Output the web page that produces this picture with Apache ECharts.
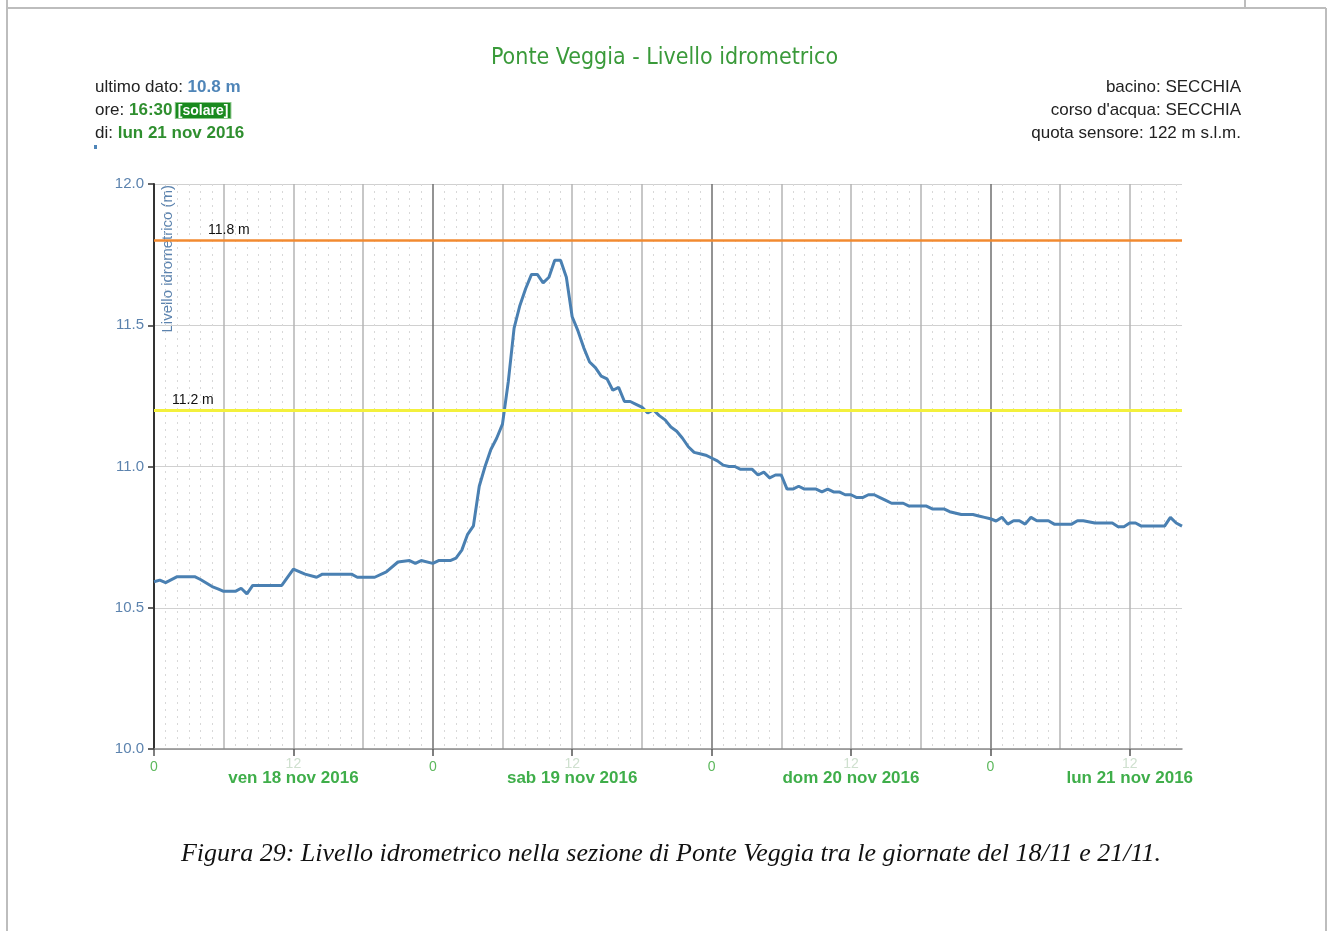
<!DOCTYPE html>
<html>
<head>
<meta charset="utf-8">
<script src="https://cdn.jsdelivr.net/npm/echarts@6/dist/echarts.min.js"></script>
<style>
  html, body { margin: 0; padding: 0; background: #fff; }
  #chart { width: 1329px; height: 931px; }
</style>
</head>
<body>
<div id="chart"></div>
<script>
  // ore trascorse da ven 18 nov 2016 00:00
  var hours = [
    0, 0.5, 1, 2, 3.5, 4, 5, 5.5, 6, 7, 7.5, 8, 8.5, 11, 12, 13, 14, 14.5, 15, 17,
    17.5, 19, 20, 21, 22, 22.5, 23, 24, 24.5, 25.5, 26, 26.5, 27, 27.5, 28, 28.5, 29, 29.5, 30, 30.5,
    31, 31.5, 32, 32.5, 33, 33.5, 34, 34.5, 35, 35.5, 36, 36.5, 37, 37.5, 38, 38.5, 39, 39.5, 40, 40.5,
    41, 41.5, 42, 42.5, 43, 43.5, 44, 44.5, 45, 45.5, 46, 46.5, 47, 47.5, 48, 48.5, 49, 49.5, 50, 50.5,
    51.5, 52, 52.5, 53, 53.5, 54, 54.5, 55, 55.5, 56, 57, 57.5, 58, 58.5, 59, 59.5, 60, 60.5, 61, 61.5,
    62, 62.5, 63, 63.5, 64.5, 65, 66.5, 67, 68, 68.5, 69.5, 70.5, 71, 71.5, 72, 72.5, 73, 73.5, 74, 74.5,
    75, 75.5, 76, 77, 77.5, 79, 79.5, 80, 81, 82.5, 83, 83.5, 84, 84.5, 85, 87, 87.5, 88, 88.5
  ];
  // livello idrometrico (m)
  var levels = [
    10.592, 10.598, 10.589, 10.61, 10.61, 10.60, 10.575, 10.567, 10.558, 10.558, 10.569, 10.549, 10.579, 10.579, 10.637, 10.619, 10.608, 10.619, 10.619, 10.619,
    10.608, 10.608, 10.627, 10.662, 10.667, 10.657, 10.667, 10.657, 10.667, 10.667, 10.676, 10.704, 10.76, 10.79, 10.93, 11.00, 11.06, 11.10, 11.15, 11.30,
    11.49, 11.57, 11.63, 11.68, 11.68, 11.65, 11.67, 11.73, 11.73, 11.67, 11.53, 11.48, 11.42, 11.37, 11.35, 11.32, 11.31, 11.27, 11.28, 11.23,
    11.23, 11.22, 11.21, 11.19, 11.20, 11.18, 11.165, 11.14, 11.125, 11.10, 11.07, 11.05, 11.045, 11.04, 11.03, 11.02, 11.005, 11.0, 11.0, 10.99,
    10.99, 10.97, 10.98, 10.96, 10.97, 10.97, 10.92, 10.92, 10.93, 10.92, 10.92, 10.91, 10.92, 10.91, 10.91, 10.90, 10.90, 10.89, 10.89, 10.90,
    10.90, 10.89, 10.88, 10.87, 10.87, 10.86, 10.86, 10.85, 10.85, 10.84, 10.83, 10.83, 10.825, 10.82, 10.815, 10.807, 10.82, 10.796, 10.808, 10.808,
    10.796, 10.82, 10.808, 10.808, 10.796, 10.796, 10.808, 10.808, 10.80, 10.80, 10.787, 10.787, 10.80, 10.80, 10.789, 10.789, 10.82, 10.80, 10.789
  ];
  var dayLabels = ['ven 18 nov 2016', 'sab 19 nov 2016', 'dom 20 nov 2016', 'lun 21 nov 2016'];
  var thresholds = [11.8, 11.2];

  var chart = echarts.init(document.getElementById('chart'));

  var lineData = [];
  for (var i = 0; i < hours.length; i++) {
    lineData.push([hours[i], levels[i]]);
  }

  chart.setOption({
    animation: false,
    backgroundColor: '#fff',
    title: {
      text: 'Ponte Veggia - Livello idrometrico',
      left: 'center',
      top: 42,
      textStyle: {
        color: '#3a9a3a',
        fontFamily: "'DejaVu Sans Condensed', 'Liberation Sans Narrow', Roboto, sans-serif",
        fontWeight: 'normal',
        fontSize: 23
      }
    },
    grid: {
      left: 154,
      right: 147,
      top: 184,
      bottom: 182
    },
    xAxis: [
      {
        // griglia: linee ogni 6 ore, punteggiate ogni ora
        type: 'value',
        min: 0,
        max: 88.5,
        interval: 6,
        axisLine: { show: false },
        axisTick: { show: false },
        axisLabel: { show: false },
        splitLine: {
          show: true,
          showMinLine: false,
          showMaxLine: false,
          lineStyle: { color: ['#b4b4b4', '#b4b4b4', '#b4b4b4', '#6f6f6f'], width: 1.5 }
        },
        minorTick: { show: false, splitNumber: 6 },
        minorSplitLine: {
          show: true,
          lineStyle: { color: '#d8d8d8', type: [2, 5], width: 1 }
        }
      },
      {
        type: 'value',
        min: 0,
        max: 88.5,
        interval: 12,
        position: 'bottom',
        axisLine: { show: true, lineStyle: { color: '#8a8a8a', width: 1.5 } },
        axisTick: { show: true, length: 7, lineStyle: { color: '#555', width: 1.5 } },
        splitLine: { show: false },
        axisLabel: {
          margin: 10,
          showMaxLabel: false,
          formatter: function (v) {
            if (v % 24 === 0) return '{z|0}';
            if (v % 24 === 12) return '{t|12}\n{d|' + dayLabels[Math.floor(v / 24)] + '}';
            return '';
          },
          rich: {
            z: { color: '#5cb85c', fontSize: 14, fontFamily: 'Liberation Sans', lineHeight: 16 },
            t: { color: '#cfe0cf', fontSize: 14, fontFamily: 'Liberation Sans', lineHeight: 10 },
            d: { color: '#3fae4a', fontSize: 17, fontWeight: 'bold', fontFamily: 'Liberation Sans', lineHeight: 19 }
          }
        }
      }
    ],
    yAxis: {
      type: 'value',
      min: 10,
      max: 12,
      interval: 0.5,
      axisLine: { show: true, lineStyle: { color: '#333', width: 2 } },
      axisTick: { show: true, length: 6, lineStyle: { color: '#333', width: 1.5 } },
      axisLabel: {
        margin: 10,
        color: '#5c83ae',
        fontSize: 15,
        fontFamily: 'Liberation Sans',
        formatter: function (v) { return v.toFixed(1); }
      },
      splitLine: { show: true, lineStyle: { color: '#d0d0d0', width: 1 } }
    },
    series: [
      {
        type: 'line',
        xAxisIndex: 0,
        data: lineData,
        showSymbol: false,
        symbol: 'none',
        lineStyle: { color: '#4a80b2', width: 3 },
        markLine: {
          silent: true,
          symbol: 'none',
          data: [
            {
              yAxis: thresholds[0],
              lineStyle: { color: '#f28a30', width: 2.5, type: 'solid' },
              label: { position: 'insideStartTop', formatter: '11.8 m', color: '#111', fontSize: 14, fontFamily: 'Liberation Sans', padding: [0, 0, 0, 51], distance: 3 }
            },
            {
              yAxis: thresholds[1],
              lineStyle: { color: '#f3f03c', width: 3, type: 'solid' },
              label: { position: 'insideStartTop', formatter: '11.2 m', color: '#111', fontSize: 14, fontFamily: 'Liberation Sans', padding: [0, 0, 0, 15], distance: 3 }
            }
          ]
        }
      }
    ],
    graphic: [
      // cornice della pagina
      { type: 'line', silent: true, z: 0, shape: { x1: 7, y1: 0, x2: 7, y2: 931 }, style: { stroke: '#bdbdbd', lineWidth: 2 } },
      { type: 'line', silent: true, z: 0, shape: { x1: 7, y1: 8, x2: 1326, y2: 8 }, style: { stroke: '#bdbdbd', lineWidth: 2 } },
      { type: 'line', silent: true, z: 0, shape: { x1: 1245, y1: 0, x2: 1245, y2: 8 }, style: { stroke: '#bdbdbd', lineWidth: 2 } },
      { type: 'line', silent: true, z: 0, shape: { x1: 1326, y1: 8, x2: 1326, y2: 931 }, style: { stroke: '#bdbdbd', lineWidth: 2 } },
      // informazioni in alto
      {
        type: 'text',
        x: 95,
        y: 76,
        style: {
          text: '{k|ultimo dato: }{b|10.8 m}\n{k|ore: }{g|16:30} {s|[solare]}\n{k|di: }{g|lun 21 nov 2016}',
          rich: {
            k: { fill: '#222', fontSize: 17, fontFamily: 'Liberation Sans', lineHeight: 23 },
            b: { fill: '#4f85b8', fontSize: 17, fontWeight: 'bold', fontFamily: 'Liberation Sans', lineHeight: 23 },
            g: { fill: '#2f8f2f', fontSize: 17, fontWeight: 'bold', fontFamily: 'Liberation Sans', lineHeight: 23 },
            s: { fill: '#fff', backgroundColor: '#198a1e', borderColor: '#8bc78b', borderWidth: 1, fontSize: 14, fontWeight: 'bold', fontFamily: 'Liberation Sans', padding: [1, 2, 0, 2], lineHeight: 17 }
          }
        }
      },
      { type: 'rect', shape: { x: 94, y: 145, width: 3, height: 4 }, style: { fill: '#4f85b8' } },
      {
        type: 'text',
        x: 1241,
        y: 76,
        style: {
          text: 'bacino: SECCHIA\ncorso d\'acqua: SECCHIA\nquota sensore: 122 m s.l.m.',
          align: 'right',
          fill: '#222',
          fontSize: 17,
          fontFamily: 'Liberation Sans',
          lineHeight: 23
        }
      },
      // titolo asse y
      {
        type: 'text',
        x: 168,
        y: 185,
        rotation: Math.PI / 2,
        style: {
          text: 'Livello idrometrico (m)',
          align: 'right',
          verticalAlign: 'middle',
          fill: '#5c83ae',
          fontSize: 15,
          fontFamily: 'Liberation Sans'
        }
      },
      // didascalia
      {
        type: 'text',
        x: 671,
        y: 854,
        style: {
          text: 'Figura 29: Livello idrometrico nella sezione di Ponte Veggia tra le giornate del 18/11 e 21/11.',
          align: 'center',
          verticalAlign: 'middle',
          fill: '#111',
          fontSize: 26,
          fontStyle: 'italic',
          fontFamily: 'Liberation Serif'
        }
      }
    ]
  });
</script>
</body>
</html>
